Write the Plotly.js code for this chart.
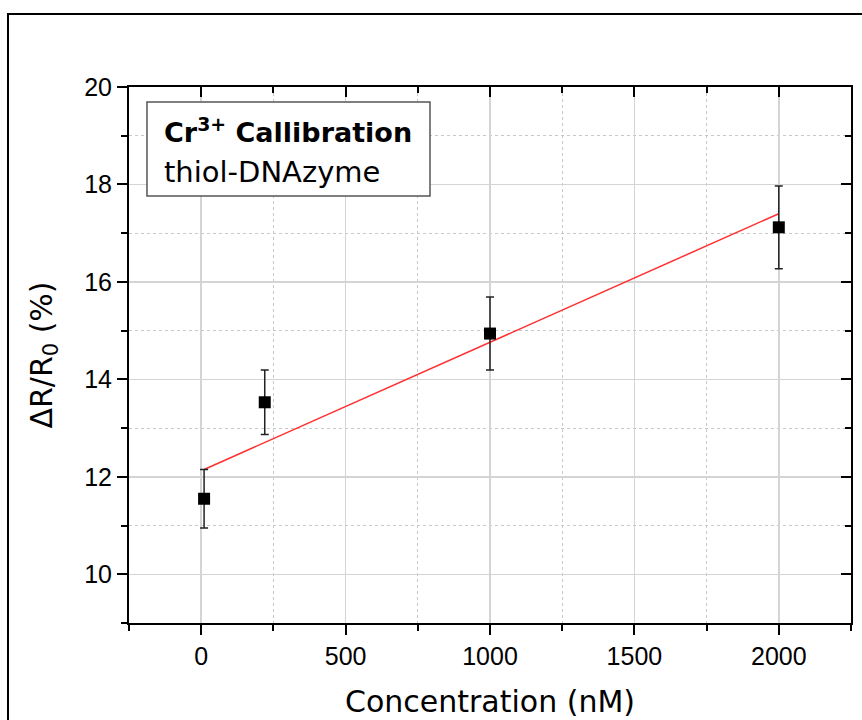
<!DOCTYPE html>
<html>
<head>
<meta charset="utf-8">
<script src="https://cdn.plot.ly/plotly-3.0.1.min.js"></script>
<style>html,body{margin:0;padding:0;background:#fff;}#chart{width:862px;height:720px;}</style>
</head>
<body>
<div id="chart"></div>
<script>
// Data
var concentration = [10, 220, 1000, 2000];
var response = [11.55, 13.53, 14.94, 17.12];
var responseError = [0.6, 0.66, 0.75, 0.85];
var fitX = [10, 2000];
var fitY = [12.15, 17.40];
var xTickValues = [0, 500, 1000, 1500, 2000];
var yTickValues = [10, 12, 14, 16, 18, 20];
var boxTitle = 'Cr<sup>3+</sup> Callibration';
var boxSubtitle = 'thiol-DNAzyme';

var tickFont = {family: 'Liberation Sans, Arial, sans-serif', size: 25, color: '#000'};
var titleFont = {family: 'DejaVu Sans, sans-serif', size: 30, color: '#000'};

var traces = [
  {
    x: fitX, y: fitY, type: 'scatter', mode: 'lines',
    line: {color: '#ff3030', width: 1.5},
    hoverinfo: 'skip', showlegend: false
  },
  {
    x: concentration, y: response, type: 'scatter', mode: 'markers',
    marker: {symbol: 'square', size: 12, color: '#000'},
    error_y: {type: 'data', array: responseError, visible: true, color: '#222', thickness: 1.5, width: 4},
    showlegend: false
  },
  {x: [null], y: [null], xaxis: 'x2', yaxis: 'y', type: 'scatter', mode: 'markers', showlegend: false, hoverinfo: 'skip'},
  {x: [null], y: [null], xaxis: 'x', yaxis: 'y2', type: 'scatter', mode: 'markers', showlegend: false, hoverinfo: 'skip'}
];

var gridMajor = '#d4d4d4';
var gridMinor = '#c8c8c8';

var layout = {
  width: 862, height: 720,
  margin: {l: 129, r: 11, t: 87, b: 97},
  paper_bgcolor: '#fff', plot_bgcolor: '#fff',
  showlegend: false,
  xaxis: {
    range: [-250, 2250], tickvals: xTickValues, ticktext: xTickValues.map(String),
    showline: true, linecolor: '#000', linewidth: 2,
    ticks: 'outside', ticklen: 10, tickwidth: 2, tickcolor: '#000',
    showgrid: true, gridcolor: gridMajor, gridwidth: 1.5, zeroline: false,
    tickfont: tickFont,
    minor: {dtick: 250, tick0: 0, ticks: 'outside', ticklen: 6, tickwidth: 2, tickcolor: '#000', showgrid: true, gridcolor: gridMinor, griddash: 'dot', gridwidth: 1},
    title: {text: 'Concentration (nM)', font: titleFont, standoff: 22},
    automargin: false
  },
  yaxis: {
    range: [9, 20], tickvals: yTickValues, ticktext: yTickValues.map(String),
    showline: true, linecolor: '#000', linewidth: 2,
    ticks: 'outside', ticklen: 10, tickwidth: 2, tickcolor: '#000',
    showgrid: true, gridcolor: gridMajor, gridwidth: 1.5, zeroline: false,
    tickfont: tickFont,
    minor: {dtick: 1, tick0: 9, ticks: 'outside', ticklen: 6, tickwidth: 2, tickcolor: '#000', showgrid: true, gridcolor: gridMinor, griddash: 'dot', gridwidth: 1},
    title: {text: 'ΔR/R<sub>0</sub> (%)', font: titleFont, standoff: 23},
    automargin: false
  },
  xaxis2: {
    overlaying: 'x', anchor: 'y', side: 'top', range: [-250, 2250],
    tickvals: xTickValues, showticklabels: false,
    showline: true, linecolor: '#000', linewidth: 2,
    ticks: 'inside', ticklen: 10, tickwidth: 2, tickcolor: '#000',
    showgrid: false, zeroline: false,
    minor: {dtick: 250, tick0: 0, ticks: 'inside', ticklen: 6, tickwidth: 2, tickcolor: '#000', showgrid: false}
  },
  yaxis2: {
    overlaying: 'y', anchor: 'x', side: 'right', range: [9, 20],
    tickvals: yTickValues, showticklabels: false,
    showline: true, linecolor: '#000', linewidth: 2,
    ticks: 'inside', ticklen: 10, tickwidth: 2, tickcolor: '#000',
    showgrid: false, zeroline: false,
    minor: {dtick: 1, tick0: 9, ticks: 'inside', ticklen: 6, tickwidth: 2, tickcolor: '#000', showgrid: false}
  },
  shapes: [
    {type: 'rect', xref: 'paper', yref: 'paper', x0: -0.1676, x1: 1.2, y0: -0.4, y1: 1.136,
     line: {color: '#000', width: 2}, fillcolor: 'rgba(0,0,0,0)', layer: 'above'},
    {type: 'rect', xref: 'paper', yref: 'paper', x0: 0.0249, x1: 0.4169, y0: 0.7966, y1: 0.972,
     line: {color: '#555', width: 1.5}, fillcolor: '#fff', layer: 'above'}
  ],
  annotations: [
    {xref: 'paper', yref: 'paper', x: 0.0457, y: (623 - 130) / 536, xanchor: 'left', yanchor: 'middle',
     text: '<b>' + boxTitle + '</b>', showarrow: false,
     font: {family: 'DejaVu Sans, sans-serif', size: 27, color: '#000'}},
    {xref: 'paper', yref: 'paper', x: 0.0457, y: (623 - 172) / 536, xanchor: 'left', yanchor: 'middle',
     text: boxSubtitle, showarrow: false,
     font: {family: 'DejaVu Sans, sans-serif', size: 29, color: '#000'}}
  ]
};

Plotly.newPlot('chart', traces, layout, {displayModeBar: false, staticPlot: true});
</script>
</body>
</html>
